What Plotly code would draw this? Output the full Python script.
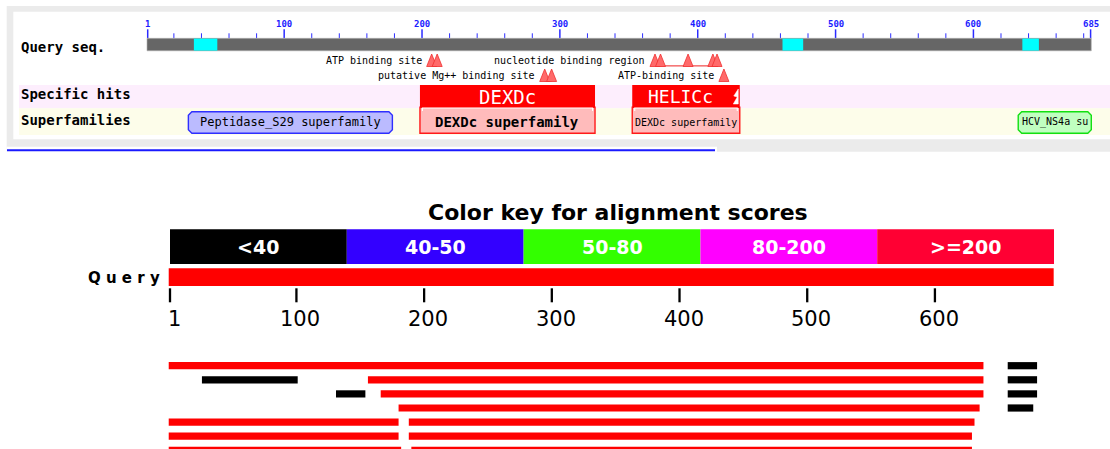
import plotly.graph_objects as go

# ---------------------------------------------------------------- data
query_length = 685
ruler_major = [1, 100, 200, 300, 400, 500, 600, 685]
ruler_minor = [20, 40, 60, 80, 120, 140, 160, 180, 220, 240, 260, 280, 320, 340,
               360, 380, 420, 440, 460, 480, 520, 540, 560, 580, 620, 640, 660, 680]
lowcomp_start = [35, 462, 636]
lowcomp_end = [51, 476, 647]

site_names = ["ATP binding site", "nucleotide binding region",
              "putative Mg++ binding site", "ATP-binding site"]
site_residues = [[207, 211], [369, 373, 393, 411, 414], [289, 294], [419]]
site_rows = [0, 0, 1, 1]

hit_names = ["DEXDc", "HELICc"]
hit_start = [199, 353]
hit_end = [325, 430]
hit_superfamily = ["DEXDc superfamily", "DEXDc superfamily"]
hit_truncated = [False, True]

sf_names = ["Peptidase_S29 superfamily", "HCV_NS4a su"]
sf_start = [31, 633]
sf_end = [178, 685]

score_labels = ["<40", "40-50", "50-80", "80-200", ">=200"]
score_colors = ["#000000", "#3300ff", "#33ff00", "#ff00ff", "#ff0033"]
blast_ticks = [1, 100, 200, 300, 400, 500, 600]
blast_query_length = 693
align_start = [[1, 658], [27, 157, 658], [132, 167, 658], [181, 658],
               [1, 189], [1, 189], [1, 191]]
align_end = [[638, 680], [101, 638, 680], [154, 638, 680], [635, 677],
             [180, 631], [180, 629], [182, 629]]
align_score = [[">=200", "<40"], ["<40", ">=200", "<40"], ["<40", ">=200", "<40"],
               [">=200", "<40"], [">=200", ">=200"], [">=200", ">=200"],
               [">=200", ">=200"]]

# ---------------------------------------------------------------- styles
W, H = 1110, 449
PX1_TOP, K_TOP = 147.7, 1.3785      # pixel of residue 1, pixels per residue (CDD)
PX1_BOT, K_BOT = 170.0, 1.277       # same for BLAST graphic
bar_colors = {"<40": "#000000", "40-50": "#3300ff", "50-80": "#33ff00",
              "80-200": "#ff00ff", ">=200": "#ff0000"}
MONO = "DejaVu Sans Mono"
SANS = "DejaVu Sans"

shapes = []
ann = []


def px(p):
    return p / W


def rect(x0, x1, y0, y1, fill, xref="paper", line=None, lw=0):
    shapes.append(dict(type="rect", xref=xref, yref="y", x0=x0, x1=x1, y0=y0, y1=y1,
                       fillcolor=fill, line=dict(color=line or fill, width=lw),
                       layer="above"))


def text(x, y, s, size, color="black", family=MONO, bold=False, xanchor="center",
         xref="paper", xshift=0):
    if bold:
        s = "<b>" + s + "</b>"
    ann.append(dict(x=x, y=y, xref=xref, yref="y", text=s, showarrow=False,
                    xanchor=xanchor, yanchor="middle", xshift=xshift,
                    font=dict(family=family, size=size, color=color)))


# ---------------------------------------------------------------- CDD panel
rect(px(6.7), px(W), 6, 151.7, "#ebebeb")
rect(px(13.3), px(W), 11.7, 139.3, "#ffffff")
rect(px(6.7), px(717), 146.7, 152.5, "#ffffff")
shapes.append(dict(type="line", xref="paper", yref="y", x0=px(7), x1=px(715),
                   y0=150.3, y1=150.3, line=dict(color="#1a1aff", width=2)))
rect(px(19), px(W), 85, 108.3, "#fdeefd")
rect(px(19), px(W), 108.3, 135, "#fdfdea")

text(px(19), 47, "Query seq.", 14, bold=True, xanchor="left")
text(px(19), 94, "Specific hits", 14, bold=True, xanchor="left")
text(px(19), 120, "Superfamilies", 14, bold=True, xanchor="left")

# ruler
for t in ruler_major:
    shapes.append(dict(type="line", xref="x", yref="y", x0=t, x1=t, y0=29.3, y1=38.3,
                       line=dict(color="#2b2bff", width=1.5)))
    text(t, 23.5, "<b>%d</b>" % t, 9, color="#1c1cff", xref="x")
for t in ruler_minor:
    shapes.append(dict(type="line", xref="x", yref="y", x0=t, x1=t, y0=33.3, y1=38.3,
                       line=dict(color="#2b2bff", width=1)))

# sequence bar and low complexity
shapes.append(dict(type="rect", xref="x", yref="y", x0=0.5, x1=query_length + 0.5,
                   y0=38.3, y1=50.8, fillcolor="#666666",
                   line=dict(color="#b0b0b0", width=0.6)))
for s, e in zip(lowcomp_start, lowcomp_end):
    shapes.append(dict(type="rect", xref="x", yref="y", x0=s - 0.5, x1=e + 0.5,
                       y0=38.6, y1=50.6, fillcolor="#00ffff", line=dict(width=0)))

# sites
tri_half = 5.0 / K_TOP
for name, res, row in zip(site_names, site_residues, site_rows):
    base = 66.5 if row == 0 else 81.5
    apex = base - 12.5
    if len(res) > 1:
        shapes.append(dict(type="line", xref="x", yref="y", x0=res[0], x1=res[-1],
                           y0=base - 0.6, y1=base - 0.6,
                           line=dict(color="#ee2222", width=1)))
    for r in res:
        path = "M %.3f,%.2f L %.3f,%.2f L %.3f,%.2f Z" % (
            r - tri_half, base, r, apex, r + tri_half, base)
        shapes.append(dict(type="path", xref="x", yref="y", path=path,
                           fillcolor="#ff6a6a", line=dict(color="#f03030", width=0.8)))
    text(res[0] - tri_half, (base + apex) / 2 + 0.5, name, 10, xanchor="right",
         xref="x", xshift=-3)

# specific hits with their superfamily box
for name, s, e, sfn, trunc in zip(hit_names, hit_start, hit_end, hit_superfamily,
                                  hit_truncated):
    x0, x1 = s - 0.5, e + 0.5
    shapes.append(dict(type="rect", xref="x", yref="y", x0=x0, x1=x1, y0=107.3,
                       y1=133.3, fillcolor="#ffbbbb",
                       line=dict(color="#ff1a1a", width=1.4), layer="above"))
    shapes.append(dict(type="rect", xref="x", yref="y", x0=x0, x1=x1, y0=85,
                       y1=107.6, fillcolor="#ff0000", line=dict(width=0), layer="above"))
    d = 2.5 / K_TOP
    shapes.append(dict(type="path", xref="x", yref="y",
                       path="M %.3f,111 L %.3f,108 L %.3f,108 L %.3f,111" % (
                           x0 + d, x0 + d, x1 - d, x1 - d),
                       line=dict(color="#ffffff", width=1.1), layer="above"))
    wide = (e - s) > 100
    text((x0 + x1) / 2, 96.5, name, 19 if wide else 18, color="white", xref="x",
         xshift=0 if not trunc else -6)
    text((x0 + x1) / 2, 122, sfn, 14 if wide else 10, bold=wide, xref="x")
    if trunc:
        u = 1.0 / K_TOP
        path = ("M %.3f,89 L %.3f,96 L %.3f,97 L %.3f,104 L %.3f,104 Z" % (
            x1 - 1.5 * u, x1 - 6 * u, x1 - 2.5 * u, x1 - 6.5 * u, x1 - 1.5 * u))
        shapes.append(dict(type="path", xref="x", yref="y", path=path,
                           fillcolor="#ffffff", line=dict(color="#ffffff", width=0.5),
                           layer="above"))

# superfamilies (rounded boxes)
sf_fill = ["#bbbbff", "#c0ffc0"]
sf_line = ["#2f2fff", "#11e011"]
sf_font = [12, 10]
for name, s, e, f, l, fs in zip(sf_names, sf_start, sf_end, sf_fill, sf_line, sf_font):
    x0, x1 = s - 0.5, e + 0.5
    c = 3.5 / K_TOP
    y0, y1, cy = 111.7, 133.3, 3.5
    path = ("M %.3f,%.2f L %.3f,%.2f L %.3f,%.2f L %.3f,%.2f L %.3f,%.2f L %.3f,%.2f "
            "L %.3f,%.2f L %.3f,%.2f Z" % (
                x0 + c, y0, x1 - c, y0, x1, y0 + cy, x1, y1 - cy, x1 - c, y1,
                x0 + c, y1, x0, y1 - cy, x0, y0 + cy))
    shapes.append(dict(type="path", xref="x", yref="y", path=path, fillcolor=f,
                       line=dict(color=l, width=1.4), layer="above"))
    text((x0 + x1) / 2, 122, name, fs, xref="x")

# ---------------------------------------------------------------- BLAST panel
text(px(617.5), 212, "Color key for alignment scores", 22, family=SANS, bold=True)
key_l, key_r = 170.0, 1054.0
kw = (key_r - key_l) / len(score_labels)
for i, (lab, col) in enumerate(zip(score_labels, score_colors)):
    rect(px(key_l + i * kw), px(key_l + (i + 1) * kw), 229.3, 264, col)
    text(px(key_l + (i + 0.5) * kw), 247, lab, 19, color="white", family=SANS,
         bold=True)

text(px(86), 277.5, "Q u e r y", 15, family=SANS, bold=True, xanchor="left")
shapes.append(dict(type="rect", xref="x2", yref="y", x0=0, x1=blast_query_length,
                   y0=268.3, y1=286, fillcolor="#ff0000", line=dict(width=0)))
for t in blast_ticks:
    shapes.append(dict(type="line", xref="x2", yref="y", x0=t, x1=t, y0=288.3,
                       y1=302.3, line=dict(color="#000000", width=2.3)))
    text(t, 319, str(t), 21, family=SANS, xref="x2", xshift=4)

row_y0, row_dy = 365.7, 14.1
for i, (ss, ee, sc) in enumerate(zip(align_start, align_end, align_score)):
    cy = row_y0 + i * row_dy
    for s, e, c in zip(ss, ee, sc):
        shapes.append(dict(type="rect", xref="x2", yref="y", x0=s - 1, x1=e,
                           y0=cy - 3.6, y1=cy + 3.6, fillcolor=bar_colors[c],
                           line=dict(width=0)))

# ---------------------------------------------------------------- figure
fig = go.Figure()
fig.add_trace(go.Scatter(x=[1], y=[-10], xaxis="x", yaxis="y", mode="markers",
                         marker=dict(opacity=0), hoverinfo="skip", showlegend=False))
fig.add_trace(go.Scatter(x=[1], y=[-10], xaxis="x2", yaxis="y", mode="markers",
                         marker=dict(opacity=0), hoverinfo="skip", showlegend=False))
top_range = [1 - PX1_TOP / K_TOP, 1 + (W - PX1_TOP) / K_TOP]
bot_range = [1 - PX1_BOT / K_BOT, 1 + (W - PX1_BOT) / K_BOT]
fig.update_layout(
    width=W, height=H, margin=dict(l=0, r=0, t=0, b=0),
    paper_bgcolor="white", plot_bgcolor="white", showlegend=False,
    xaxis=dict(range=top_range, visible=False, domain=[0, 1], fixedrange=True),
    xaxis2=dict(range=bot_range, visible=False, domain=[0, 1], anchor="y",
                overlaying="x", fixedrange=True),
    yaxis=dict(range=[H, 0], visible=False, domain=[0, 1], fixedrange=True),
    shapes=shapes, annotations=ann,
)
fig.write_html("out.html", config={"displayModeBar": False},
               post_script="document.body.style.margin='0';"
                           "document.body.style.overflow='hidden';")
